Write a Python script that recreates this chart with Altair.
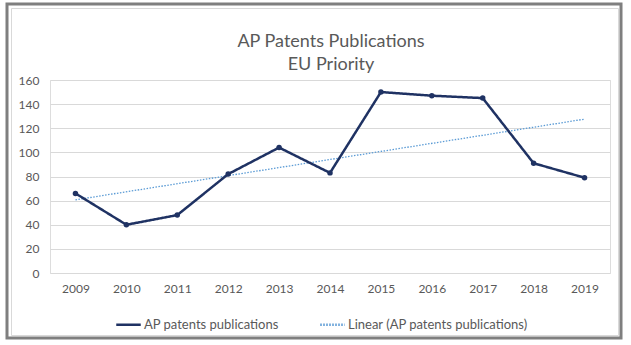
import altair as alt
import pandas as pd

years = [2009, 2010, 2011, 2012, 2013, 2014, 2015, 2016, 2017, 2018, 2019]
publications = [66, 40, 48, 82, 104, 83, 150, 147, 145, 91, 79]
series_names = ["AP patents publications", "Linear (AP patents publications)"]
y_ticks = [0, 20, 40, 60, 80, 100, 120, 140, 160]
title_lines = ["AP Patents Publications", "EU Priority"]

df = pd.DataFrame({"year": years, "value": publications})

FONT = "Lato"
TXT = "#595959"
NAVY = "#1F3263"
LIGHT = "#5B9BD5"

W, H = 560, 193

color_scale = alt.Scale(domain=series_names, range=[NAVY, LIGHT])
dash_scale = alt.Scale(domain=series_names, range=[[1, 0], [1.5, 1.5]])

x_enc = alt.X(
    "year:Q",
    scale=alt.Scale(domain=[2008.5, 2019.5], nice=False, zero=False),
    axis=alt.Axis(values=years, format="d", title=None, grid=False, domain=False,
                  ticks=False, labelPadding=10, labelFontSize=12, labelColor=TXT,
                  labelFont=FONT),
)
y_enc = alt.Y(
    "value:Q",
    scale=alt.Scale(domain=[0, 160], nice=False),
    axis=alt.Axis(values=y_ticks, title=None, domain=False, ticks=False,
                  gridColor="#D9D9D9", gridWidth=1, labelPadding=11,
                  labelFontSize=12, labelColor=TXT, labelFont=FONT),
)

legend = alt.Legend(
    title=None, orient="none", legendX=65, legendY=231, direction="horizontal",
    symbolType="stroke", symbolSize=600, symbolStrokeWidth=2.5,
    labelFontSize=13, labelColor=TXT, labelFont=FONT, labelOffset=2,
    labelLimit=400, columnPadding=36,
)

base = alt.Chart(df)

line = base.mark_line(strokeWidth=2.5).encode(
    x=x_enc, y=y_enc,
    color=alt.Color("s:N", scale=color_scale, legend=legend),
    strokeDash=alt.StrokeDash("s:N", scale=dash_scale, legend=legend),
).transform_calculate(s="'AP patents publications'")

pts = base.mark_point(filled=True, size=30, opacity=1, color=NAVY).encode(x=x_enc, y=y_enc)

trend = base.transform_regression("year", "value").transform_calculate(
    s="'Linear (AP patents publications)'"
).mark_line(strokeWidth=1.3).encode(
    x=x_enc, y=y_enc,
    color=alt.Color("s:N", scale=color_scale, legend=legend),
    strokeDash=alt.StrokeDash("s:N", scale=dash_scale, legend=legend),
)

frame_data = alt.Data(values=[{"k": 1}])
outer = alt.Chart(frame_data).mark_rect(fill=None, stroke="#7F7F7F", strokeWidth=3).encode(
    x=alt.value(-43), x2=alt.value(571), y=alt.value(-76), y2=alt.value(258)
)
inner = alt.Chart(frame_data).mark_rect(fill=None, stroke="#D9D9D9", strokeWidth=1).encode(
    x=alt.value(-38.5), x2=alt.value(568.5), y=alt.value(-71.5), y2=alt.value(255.5)
)
title = alt.Chart(frame_data).mark_text(
    text=title_lines, font=FONT, fontSize=18, color=TXT, align="center",
    baseline="alphabetic", lineHeight=23,
).encode(x=alt.value(281), y=alt.value(-33))

chart = alt.layer(outer, inner, title, trend, line, pts).properties(
    width=W, height=H,
    padding={"left": 50, "top": 80, "right": 21, "bottom": 72},
    autosize=alt.AutoSizeParams(type="none"),
).configure_view(stroke=None).configure(background="white")

chart.save("out.html", embed_options={"renderer": "svg", "actions": False})
